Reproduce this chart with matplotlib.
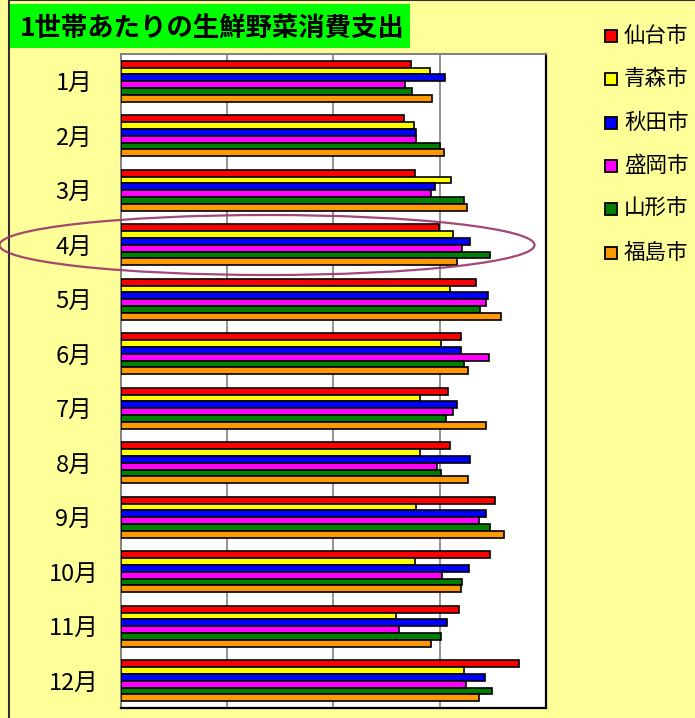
import matplotlib
matplotlib.use('Agg')
import matplotlib.pyplot as plt
from matplotlib.patches import Rectangle, Ellipse

plt.rcParams['font.family'] = ['Noto Sans CJK JP', 'DejaVu Sans']

# ============================================================
# DATA (1世帯あたりの生鮮野菜消費支出)
# ============================================================
months = ['1月', '2月', '3月', '4月', '5月', '6月',
          '7月', '8月', '9月', '10月', '11月', '12月']
cities = ['仙台市', '青森市', '秋田市', '盛岡市', '山形市', '福島市']

sendai   = [2734, 2665, 2765, 2991, 3345, 3204, 3078, 3094, 3524, 3476, 3182, 3746]
aomori   = [2906, 2759, 3110, 3125, 3094, 3009, 2818, 2812, 2781, 2771, 2592, 3226]
akita    = [3047, 2781, 2959, 3282, 3455, 3197, 3163, 3282, 3439, 3276, 3072, 3423]
morioka  = [2677, 2781, 2922, 3213, 3433, 3464, 3125, 2978, 3367, 3022, 2614, 3245]
yamagata = [2743, 3006, 3229, 3470, 3376, 3229, 3063, 3009, 3470, 3213, 3016, 3492]
fukushima = [2931, 3041, 3257, 3166, 3574, 3266, 3439, 3266, 3605, 3204, 2922, 3367]

series = [sendai, aomori, akita, morioka, yamagata, fukushima]
colors = ['#FF0000', '#FFFF00', '#0000FF', '#FF00FF', '#008000', '#FF9900']

W, H = 695, 718
BG = '#FFFF99'

fig = plt.figure(figsize=(W / 100, H / 100), dpi=100)
fig.patch.set_facecolor(BG)

def fx(px):
    return px / W

def fy(py):
    return 1 - py / H

# outer chart border
fig.add_artist(Rectangle((fx(9), fy(730)), fx(700), 730 / H, transform=fig.transFigure,
                         facecolor='none', edgecolor='#303030', linewidth=1.5))

# title box
fig.add_artist(Rectangle((fx(10), fy(48)), fx(400), 44 / H, transform=fig.transFigure,
                         facecolor='#00FF00', edgecolor='none'))
fig.text(fx(20), fy(28), '1世帯あたりの生鮮野菜消費支出', fontsize=19,
         fontweight='bold', va='center', ha='left', color='black')

# ============================================================
# BAR CHART
# ============================================================
ax = fig.add_axes([fx(121), fy(708), fx(546) - fx(121), (708 - 54) / H])
ax.set_facecolor('white')

bar_h = 0.125
for j, (vals, c) in enumerate(zip(series, colors)):
    ys = [i - 0.375 + bar_h / 2 + j * bar_h for i in range(len(months))]
    ax.barh(ys, vals, height=bar_h, color=c, edgecolor='black', linewidth=1.2, zorder=3)

ax.set_xlim(0, 4000)
ax.set_ylim(11.5, -0.5)
ax.set_xticks([1000, 2000, 3000])
ax.xaxis.grid(True, color='#808080', linewidth=1.2, zorder=0)
ax.tick_params(axis='x', length=0, labelbottom=False)
ax.set_yticks(range(len(months)))
ax.set_yticklabels(months, fontsize=17, ha='center')
ax.tick_params(axis='y', length=0, pad=34)

for side in ['right', 'bottom']:
    ax.spines[side].set_color('black')
    ax.spines[side].set_linewidth(1.6)
for side in ['left', 'top']:
    ax.spines[side].set_color('#808080')
    ax.spines[side].set_linewidth(1.4)

# highlight around April
fig.add_artist(Ellipse((fx(267), fy(245)), fx(535), 60 / H, transform=fig.transFigure,
                       facecolor='none', edgecolor='#993366', linewidth=1.6, alpha=0.9))

# ============================================================
# LEGEND
# ============================================================
for k, (name, c) in enumerate(zip(cities, colors)):
    yc = 36 + 43.3 * k
    fig.add_artist(Rectangle((fx(605), fy(yc + 6)), fx(12), 12 / H, transform=fig.transFigure,
                             facecolor=c, edgecolor='black', linewidth=1.3))
    fig.text(fx(624), fy(yc), name, fontsize=15.5, va='center', ha='left', color='black')

plt.savefig('out.png', dpi=100, facecolor=BG)
